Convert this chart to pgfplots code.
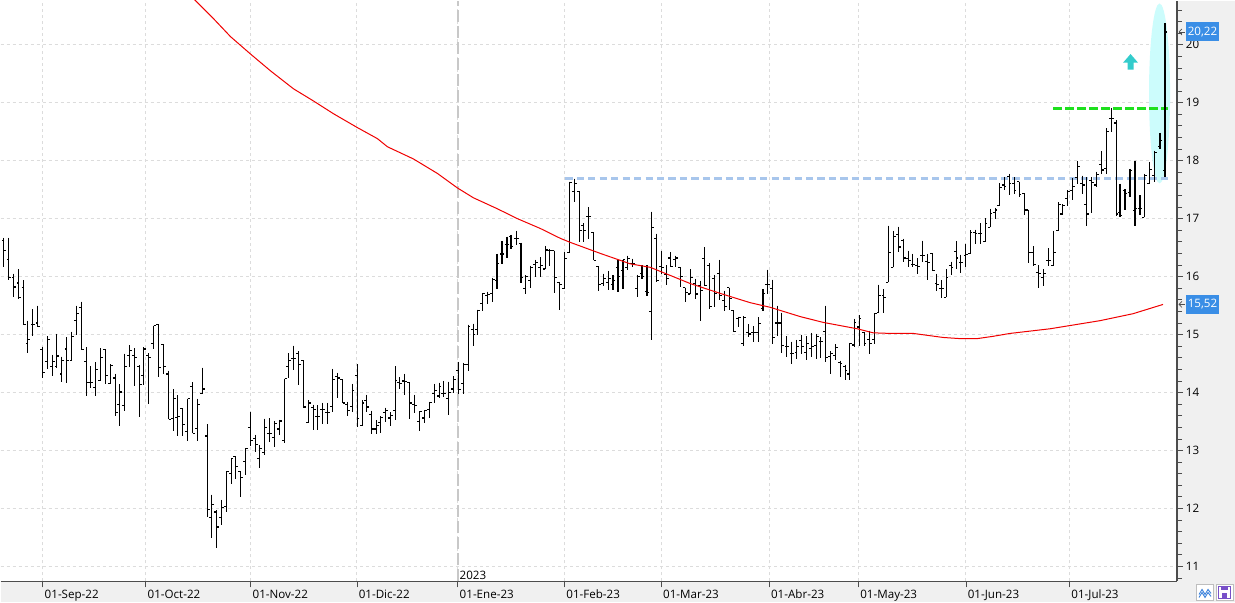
\documentclass[border=0pt]{standalone}
\usepackage{pgfplots}
\pgfplotsset{compat=1.18}
\usepackage{pgfplotstable}
\usepackage{fontspec}
\setmainfont{Open Sans}
\usetikzlibrary{arrows.meta}
\definecolor{bgpanel}{RGB}{240,240,240}
\definecolor{gridc}{RGB}{220,220,220}
\definecolor{janc}{RGB}{200,200,200}
\definecolor{axc}{RGB}{77,77,77}
\definecolor{mared}{RGB}{240,0,0}
\definecolor{bluedash}{RGB}{168,198,236}
\definecolor{greendash}{RGB}{30,224,30}
\definecolor{ellc}{RGB}{204,252,252}
\definecolor{arrc}{RGB}{51,204,204}
\definecolor{valblue}{RGB}{58,142,230}
\definecolor{iconborder}{RGB}{190,190,190}
\definecolor{iconblue}{RGB}{60,130,220}
\definecolor{iconpurple}{RGB}{120,80,200}
\newcommand{\tf}{\fontsize{8.7}{10}\selectfont}

\pgfplotstableread{
x o h l c
3.3 16.62 16.67 16.16 16.45
8.3 16.29 16.67 15.94 15.99
13.3 15.98 16.05 15.64 15.82
18.3 15.89 16.13 15.62 15.64
23.3 15.81 15.94 15.17 15.17
27.3 14.84 15.24 14.69 14.91
32.3 15.18 15.44 14.98 15.18
37.3 15.20 15.50 15.13 15.14
42 14.74 14.79 14.25 14.34
47 14.53 14.97 14.41 14.91
52 14.45 14.65 14.28 14.53
56.3 14.45 15.01 14.43 14.63
61.3 14.32 14.62 14.18 14.56
66.3 14.75 14.95 14.16 14.55
71.3 14.55 15.05 14.55 14.97
76 15.25 15.50 14.99 15.37
81 15.47 15.57 14.74 14.74
86 14.53 14.78 13.94 14.17
90 14.17 14.45 14.07 14.17
95 14.08 14.52 13.94 14.39
100 14.21 14.76 14.21 14.61
105 14.74 14.74 14.15 14.30
110 14.15 14.49 14.15 14.47
115 14.25 14.32 13.59 13.65
119 13.80 14.14 13.43 14.01
124 13.77 14.67 13.69 14.45
129 14.64 14.82 14.44 14.72
134 14.64 14.76 14.12 14.61
139 14.45 14.47 13.57 14.14
143 14.29 14.78 14.13 14.75
148 14.64 14.68 13.80 14.61
153 14.84 15.15 14.75 15.15
158 15.17 15.17 14.26 14.43
163 14.83 14.83 14.32 14.45
168 14.32 14.38 13.54 13.54
173 13.55 14.06 13.33 13.89
177 13.57 13.95 13.25 13.58
182 13.72 13.72 13.25 13.45
187 13.33 13.89 13.17 13.89
192 14.10 14.18 13.30 13.30
197 13.38 13.89 13.17 13.79
202 13.99 14.43 13.99 14.06
206.7 13.25 13.45 11.85 11.98
211 11.85 12.24 11.49 12.07
216 11.94 11.97 11.32 11.68
221 11.85 12.15 11.72 12.02
226 12.03 12.64 11.94 12.64
230.7 12.60 12.86 12.43 12.86
235 12.90 12.90 12.51 12.72
240 12.64 12.64 12.19 12.53
245 12.81 13.03 12.57 13.03
250.3 13.40 13.67 13.07 13.17
255 13.20 13.27 12.97 13.10
259.3 12.86 13.09 12.69 13.03
264.3 12.97 13.55 12.93 13.40
269.3 13.30 13.56 13.14 13.30
274.3 13.22 13.51 13.06 13.47
279.3 13.37 13.53 13.26 13.51
284.3 13.18 14.24 13.13 14.24
288.3 14.45 14.68 14.25 14.55
293.3 14.58 14.81 14.39 14.58
298.3 14.67 14.71 14.13 14.49
303.3 14.55 14.55 13.74 13.75
308.3 13.48 13.87 13.48 13.82
313.3 13.74 13.79 13.36 13.71
317.3 13.59 13.78 13.36 13.59
322.3 13.71 13.82 13.46 13.71
327.3 13.66 13.82 13.45 13.66
332.3 13.76 14.41 13.66 14.22
337.3 14.28 14.34 13.91 14.25
342.3 14.22 14.22 13.82 13.82
347.3 13.80 13.84 13.59 13.69
351.7 13.76 14.15 13.66 14.03
356.7 14.29 14.49 13.40 13.55
361.7 13.43 13.87 13.42 13.82
366 13.87 13.96 13.66 13.75
371 13.62 13.69 13.28 13.37
376 13.37 13.52 13.29 13.43
380.3 13.49 13.59 13.30 13.57
385.3 13.66 13.74 13.49 13.69
390 13.56 13.66 13.42 13.60
394.7 13.69 14.45 13.53 14.21
399.3 14.17 14.26 14.06 14.16
404 14.20 14.32 13.96 14.19
409.3 14.17 14.17 13.55 13.82
414 13.80 13.96 13.64 13.78
419 13.50 13.67 13.33 13.67
424 13.56 13.69 13.47 13.69
429.3 13.70 13.84 13.56 13.83
434 13.98 14.15 13.82 14.04
438.7 13.94 14.17 13.90 14.10
443.3 13.98 14.20 13.93 13.98
448.3 13.90 14.19 13.62 14.00
453.3 14.06 14.28 14.00 14.22
458.3 14.38 14.53 13.97 14.05
463.3 14.15 14.51 13.98 14.48
467.7 14.48 15.17 14.38 15.14
472.7 15.08 15.19 14.81 15.00
477.3 15.08 15.43 15.00 15.41
482.3 15.53 15.71 15.41 15.71
487.3 15.67 15.74 15.53 15.69
492.3 15.71 15.98 15.56 15.95
496.7 15.94 16.39 15.79 16.22
501.7 16.39 16.61 16.22 16.39
506.7 16.55 16.69 16.32 16.55
510.7 16.69 16.72 16.48 16.52
516.3 16.65 16.79 16.55 16.65
520.7 16.57 16.58 15.89 15.98
525.3 15.80 16.02 15.70 16.00
530 15.93 16.19 15.80 16.16
535 16.21 16.29 15.99 16.25
540 16.16 16.33 16.00 16.19
545 16.13 16.53 16.13 16.46
549.3 16.45 16.48 16.19 16.45
554 16.45 16.45 15.72 15.98
559 15.90 15.91 15.43 15.87
564 15.79 16.42 15.79 16.31
569.3 16.41 17.64 16.40 17.63
574 17.47 17.69 17.28 17.61
579 17.47 17.47 16.59 16.80
583.3 16.88 16.92 16.59 16.80
588.3 17.03 17.20 16.65 17.03
593.3 16.76 16.76 16.28 16.28
598.3 16.17 16.17 15.75 15.87
603.3 15.88 16.05 15.84 15.96
608.3 15.90 16.10 15.77 15.96
612.7 15.87 16.02 15.77 15.94
617.7 16.16 16.28 15.74 16.00
622.7 16.11 16.29 15.79 16.29
627.3 16.16 16.36 16.12 16.31
632.3 16.23 16.31 16.16 16.22
637.3 15.79 16.03 15.64 16.00
641.7 16.05 16.20 15.96 16.00
646.7 15.75 16.20 15.66 15.73
651.3 15.40 17.12 14.90 16.84
656 16.65 16.74 15.91 15.93
661 16.17 16.45 16.05 16.16
666 16.03 16.20 15.86 15.96
670 16.32 16.42 16.16 16.17
675 16.29 16.36 16.16 16.32
680 16.16 16.16 15.82 16.00
685 15.81 15.81 15.56 15.73
690 15.70 16.13 15.70 15.99
695 15.88 15.96 15.62 15.70
700 15.84 15.93 15.24 15.76
704.3 16.31 16.51 15.84 15.84
709 16.19 16.23 15.44 15.48
714 15.97 16.03 15.48 15.71
719 16.05 16.29 15.59 15.67
724 15.59 15.76 15.40 15.48
729 15.81 15.81 15.42 15.62
733.3 15.42 15.42 15.05 15.05
738.3 15.27 15.31 15.13 15.30
743.3 14.84 15.32 14.81 15.30
748.3 15.04 15.18 14.95 15.01
753.3 15.03 15.14 14.88 15.03
758.3 15.03 15.30 14.88 15.19
762.7 15.45 15.78 15.40 15.71
767.3 15.86 16.12 15.70 15.86
772.3 15.80 15.95 14.84 14.95
777.3 15.20 15.50 14.98 15.20
781.7 15.20 15.38 14.69 14.81
786.7 14.80 14.97 14.61 14.79
791.7 14.68 14.88 14.50 14.68
796.7 14.69 14.91 14.57 14.79
801 14.90 15.00 14.67 14.80
806 14.69 14.97 14.56 14.85
811 14.76 15.03 14.62 14.79
816 14.81 15.01 14.58 14.97
820.7 14.88 14.95 14.59 14.88
825.3 15.05 15.50 14.52 14.60
830 14.62 14.71 14.32 14.68
835 14.64 14.83 14.56 14.78
840 14.52 14.55 14.26 14.50
845 14.45 14.48 14.21 14.38
849.3 14.32 14.84 14.21 14.84
854 14.82 15.27 14.78 15.21
859 15.13 15.33 14.81 15.27
864 15.04 15.04 14.80 14.85
869.3 14.91 15.07 14.67 14.84
874.3 14.91 15.37 14.84 15.36
878.7 15.38 15.86 15.38 15.67
883.7 15.67 15.78 15.38 15.64
888.3 15.90 16.88 15.90 16.42
893.3 16.16 16.79 16.16 16.69
898.3 16.72 16.86 16.42 16.51
903.3 16.62 16.65 16.25 16.32
908.3 16.31 16.45 16.17 16.28
912.7 16.21 16.39 16.17 16.21
917.3 16.19 16.32 16.05 16.17
922.3 16.36 16.62 16.25 16.36
927.3 16.26 16.39 15.94 16.25
932.3 16.40 16.40 16.10 16.10
936.7 15.88 16.05 15.76 15.86
941.3 15.79 15.94 15.63 15.79
946 15.64 16.13 15.64 15.99
951 16.19 16.26 16.02 16.15
956 16.44 16.61 16.13 16.32
960.7 16.25 16.38 16.06 16.25
965.7 16.36 16.57 16.17 16.38
970 16.40 16.80 16.39 16.76
975 16.76 16.81 16.56 16.75
980 16.74 16.92 16.56 16.74
985 16.60 17.01 16.60 16.92
990 16.85 17.17 16.85 17.09
995 17.11 17.18 16.99 17.15
999.3 17.22 17.61 17.22 17.53
1004 17.58 17.72 17.50 17.55
1009 17.72 17.77 17.40 17.60
1014 17.60 17.71 17.43 17.48
1019 17.64 17.64 17.38 17.41
1024 17.44 17.44 17.06 17.15
1028.3 17.15 17.15 16.23 16.42
1033.3 16.42 16.52 16.19 16.21
1038.3 16.07 16.20 15.80 16.06
1043.3 15.99 16.13 15.84 16.06
1048.3 16.28 16.49 16.19 16.28
1053.3 16.19 16.79 16.19 16.42
1058.3 16.79 17.28 16.79 17.25
1062.7 17.08 17.25 17.06 17.22
1067.7 17.34 17.49 17.21 17.47
1072.7 17.48 17.70 17.32 17.55
1077.7 17.71 17.99 17.60 17.90
1082.7 17.60 17.74 17.43 17.58
1086.7 17.25 17.71 16.88 17.08
1091.7 17.66 17.71 17.09 17.63
1096.7 17.58 17.81 17.54 17.76
1101.7 17.93 18.16 17.77 17.84
1106.7 17.86 18.56 17.77 18.50
1111.7 18.73 18.90 18.49 18.73
1116 18.65 18.70 17.05 17.08
1120 17.10 17.60 17.02 17.05
1125 17.48 17.51 17.15 17.43
1130 17.45 17.86 17.37 17.83
1135 17.14 18.00 16.88 17.17
1140 17.17 17.40 17.07 17.17
1144.3 17.02 17.77 17.02 17.74
1149.3 17.60 17.97 17.60 17.85
1154.3 17.75 18.17 17.63 18.14
1160 18.25 18.48 18.20 18.35
1165 17.83 20.37 17.71 20.22
}\ohlc

\pgfplotstableread{
x y
185 20.95
195 20.76
213 20.45
230 20.14
250 19.84
270 19.55
293 19.24
313 19.03
333 18.81
357 18.57
377 18.38
387 18.24
413 18.03
437 17.78
457 17.53
473 17.36
497 17.17
517 17.00
540 16.83
560 16.66
570 16.59
600 16.40
630 16.22
650 16.16
670 16.02
690 15.88
720 15.71
750 15.55
770 15.47
800 15.31
823 15.21
857 15.10
873 15.03
890 15.02
913 15.02
943 14.95
960 14.93
977 14.93
993 14.97
1010 15.02
1050 15.10
1100 15.24
1133 15.36
1163 15.52
}\ma

\begin{document}
\begin{tikzpicture}
\begin{scope}[x=0.75pt,y=-0.75pt]
\useasboundingbox (0,0) rectangle (1235,602);
\fill[bgpanel] (0,0) rectangle (1235,602);
\fill[white] (0,0) rectangle (1177,581);
\end{scope}
\begin{axis}[
  at={(0pt,-435.75pt)}, anchor=south west,
  scale only axis, width=882.75pt, height=435.75pt,
  xmin=0, xmax=1177, ymin=10.741, ymax=20.759,
  axis x line*=bottom, axis y line*=right,
  axis line style={draw=axc, line width=0.9pt},
  tick align=outside,
  xtick={42.3,145.3,250.3,356.5,457.5,564.2,661,769,858.3,965.8,1069.5},
  xticklabels={01-Sep-22,01-Oct-22,01-Nov-22,01-Dic-22,01-Ene-23,01-Feb-23,01-Mar-23,01-Abr-23,01-May-23,01-Jun-23,01-Jul-23},
  ytick={11,12,...,20},
  minor ytick={10.8,11,...,20.6},
  major tick length=4.5pt, minor tick length=3.75pt,
  tick style={draw=axc, line width=0.6pt},
  grid=major,
  major grid style={draw=gridc, dash pattern=on 2.25pt off 2.25pt, line width=0.75pt},
  xticklabel style={anchor=north west, inner sep=0pt, xshift=1.2pt, yshift=-1.5pt, font=\tf},
  yticklabel style={anchor=west, inner sep=0pt, xshift=2pt, font=\tf},
  /pgf/number format/assume math mode=true,
  clip mode=individual,
  ohlc/.style={black, only marks, mark size=0pt, mark options={draw=none, fill=none}},
]
% Jan 2023 separator
\draw[janc, line width=1.1pt, dash pattern=on 9pt off 3pt] (axis cs:457.5,10.741) -- (axis cs:457.5,20.759);
\node[anchor=south west, inner sep=0pt, font=\tf] at (axis cs:459,10.741) [yshift=1.5pt] {2023};
% highlight ellipse
\fill[ellc] (axis cs:1159.5,19.16) ellipse [x radius=7.9pt, y radius=67.5pt];
% horizontal levels
\draw[bluedash, line width=2.4pt, dash pattern=on 5.4pt off 3.2pt] (axis cs:565,17.69) -- (axis cs:1168,17.69);
\draw[greendash, line width=2.2pt, dash pattern=on 6.5pt off 2.5pt] (axis cs:1053,18.90) -- (axis cs:1168,18.90);
% up arrow
\fill[arrc] (axis cs:1130.5,19.84) -- (axis cs:1138,19.69) -- (axis cs:1133.5,19.69) -- (axis cs:1133.5,19.57) -- (axis cs:1127.5,19.57) -- (axis cs:1127.5,19.69) -- (axis cs:1123,19.69) -- cycle;
% OHLC bars: high-low
\addplot[ohlc,
  error bars/.cd, y dir=minus, y explicit, error mark=none,
  error bar style={line width=0.85pt, black}]
  table[x=x, y=h, y error minus expr=\thisrow{h}-\thisrow{l}] {\ohlc};
% open ticks
\addplot[ohlc,
  error bars/.cd, x dir=minus, x fixed=2.3, error mark=none,
  error bar style={line width=0.85pt, black}]
  table[x=x, y=o] {\ohlc};
% close ticks
\addplot[ohlc,
  error bars/.cd, x dir=plus, x fixed=2.3, error mark=none,
  error bar style={line width=0.85pt, black}]
  table[x=x, y=c] {\ohlc};
% moving average
\addplot[mared, line width=0.75pt, mark=none] table[x=x, y=y] {\ma};
% value boxes
\draw[-{Straight Barb[length=2.2pt,width=4.5pt]}, draw=axc, line width=0.5pt] (axis cs:1184.5,20.22) -- (axis cs:1178.5,20.22);
\draw[-{Straight Barb[length=2.2pt,width=4.5pt]}, draw=axc, line width=0.5pt] (axis cs:1184.5,15.52) -- (axis cs:1178.5,15.52);
\node[fill=valblue, text=white, inner sep=0pt, minimum width=24.75pt, minimum height=14.25pt, font=\tf] at (axis cs:1202.5,20.22) {20,22};
\node[fill=valblue, text=white, inner sep=0pt, minimum width=24.75pt, minimum height=14.25pt, font=\tf] at (axis cs:1202.5,15.52) {15,52};
\end{axis}
\begin{scope}[x=0.75pt,y=-0.75pt]
% small icons
\filldraw[fill=white, draw=iconborder, line width=0.5pt] (1196,584) rectangle (1213,600);
\draw[iconblue, line width=0.7pt] (1199,594) -- (1202,589) -- (1205,594) -- (1208,589) -- (1211,593);
\draw[iconblue, line width=0.7pt] (1199,597) -- (1202,592) -- (1205,597) -- (1208,592) -- (1211,596);
\filldraw[fill=white, draw=iconborder, line width=0.5pt] (1216,584) rectangle (1233,600);
\filldraw[fill=white, draw=iconpurple, line width=1.2pt] (1218.5,586) rectangle (1230.5,598);
\fill[iconpurple] (1221,586) rectangle (1228,590);
\fill[iconpurple] (1222,593) rectangle (1227,598);
\end{scope}
\end{tikzpicture}
\end{document}
